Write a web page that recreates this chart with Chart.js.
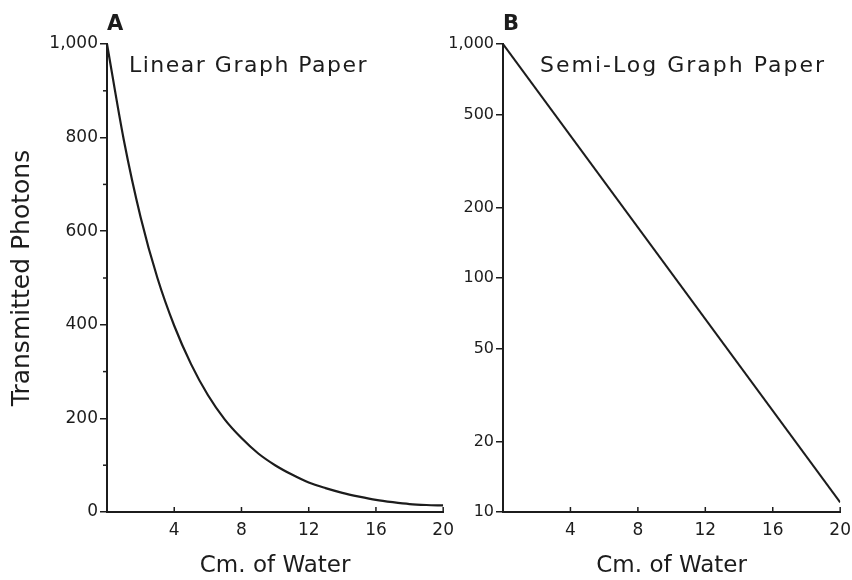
<!DOCTYPE html>
<html>
<head>
<meta charset="utf-8">
<script src="https://cdn.jsdelivr.net/npm/chart.js@4.4.1/dist/chart.umd.min.js"></script>
<style>
  body { margin: 0; background: #fff; overflow: hidden; }
  #wrap { position: relative; width: 852px; height: 580px; overflow: hidden; }
  canvas { position: absolute; top: 0; }
</style>
</head>
<body>
<div id="wrap">
  <canvas id="linearChart" width="462" height="580" style="left:0;width:462px;height:580px"></canvas>
  <canvas id="semiLogChart" width="419" height="580" style="left:440px;width:419px;height:580px"></canvas>
</div>
<script>
// values
const waterCm = [0, 1, 2, 3, 4, 5, 6, 7, 8, 9, 10, 11, 12, 13, 14, 15, 16, 17, 18, 19, 20];
const photonsLinear = [1000, 795, 630, 500, 398, 316, 250, 198, 158, 125, 100, 80, 63, 51, 41, 33, 26, 21, 17, 15, 14];
const semiLogCm = [0, 20];
const semiLogPhotons = [1000, 11];

const xTicks = [4, 8, 12, 16, 20];
const linearYTicks = [0, 200, 400, 600, 800, 1000];
const linearMinorTicks = [100, 300, 500, 700, 900];
const logYTicks = [10, 20, 50, 100, 200, 500, 1000];

const ink = '#1c1c1c';
Chart.defaults.font.family = "'DejaVu Sans', sans-serif";
Chart.defaults.color = ink;

const fmt = v => Number(v).toLocaleString('en-US');

// letter, caption, inward x ticks and small minor ticks on the y axis
function paperLabels(letter, caption, captionDx, spacing, minor) {
    return {
        id: 'paperLabels',
        afterDraw(chart) {
            const ctx = chart.ctx;
            const area = chart.chartArea;
            const x = chart.scales.x, y = chart.scales.y;
            ctx.save();
            ctx.strokeStyle = ink;
            ctx.lineWidth = 1.5;
            xTicks.forEach(v => {
                const px = x.getPixelForValue(v);
                ctx.beginPath();
                ctx.moveTo(px, area.bottom);
                ctx.lineTo(px, area.bottom - 5);
                ctx.stroke();
            });
            minor.forEach(v => {
                const py = y.getPixelForValue(v);
                ctx.beginPath();
                ctx.moveTo(area.left - 4, py);
                ctx.lineTo(area.left, py);
                ctx.stroke();
            });
            ctx.fillStyle = ink;
            ctx.textBaseline = 'middle';
            ctx.font = "bold 21px 'DejaVu Sans', sans-serif";
            ctx.fillText(letter, area.left, 25);
            ctx.font = "22px 'DejaVu Sans', sans-serif";
            ctx.letterSpacing = spacing;
            ctx.fillText(caption, area.left + captionDx, 66);
            ctx.restore();
        }
    };
}

function xAxis() {
    return {
        type: 'linear',
        min: 0,
        max: 20,
        afterBuildTicks: s => { s.ticks = xTicks.map(v => ({ value: v })); },
        afterFit: s => { s.height = 68; },
        grid: { drawOnChartArea: false, drawTicks: false },
        border: { display: true, color: ink, width: 2 },
        ticks: { padding: 8, font: { size: 17 }, color: ink },
        title: { display: true, text: 'Cm. of Water', font: { size: 23 }, color: ink, padding: { top: 0, bottom: 0 } }
    };
}

new Chart(document.getElementById('linearChart'), {
    type: 'line',
    data: {
        datasets: [{
            data: waterCm.map((c, i) => ({ x: c, y: photonsLinear[i] })),
            borderColor: ink,
            borderWidth: 2.2,
            pointRadius: 0,
            cubicInterpolationMode: 'monotone',
            fill: false
        }]
    },
    options: {
        responsive: false,
        animation: false,
        layout: { padding: { top: 44, right: 10, left: 0, bottom: 0 } },
        plugins: { legend: { display: false }, tooltip: { enabled: false } },
        scales: {
            x: xAxis(),
            y: {
                type: 'linear',
                min: 0,
                max: 1000,
                afterBuildTicks: s => { s.ticks = linearYTicks.map(v => ({ value: v })); },
                afterFit: s => { s.width = 107; },
                grid: { drawOnChartArea: false, tickLength: 7, color: ink, lineWidth: 1.5 },
                border: { display: true, color: ink, width: 2 },
                ticks: { padding: 2, font: { size: 17 }, color: ink, callback: fmt },
                title: { display: true, text: 'Transmitted Photons', font: { size: 25 }, color: ink, padding: { top: 7, bottom: 0 } }
            }
        }
    },
    plugins: [paperLabels('A', 'Linear Graph Paper', 22, '1.5px', linearMinorTicks)]
});

new Chart(document.getElementById('semiLogChart'), {
    type: 'line',
    data: {
        datasets: [{
            data: semiLogCm.map((c, i) => ({ x: c, y: semiLogPhotons[i] })),
            borderColor: ink,
            borderWidth: 2,
            pointRadius: 0,
            fill: false
        }]
    },
    options: {
        responsive: false,
        animation: false,
        layout: { padding: { top: 44, right: 5, left: 0, bottom: 0 } },
        plugins: { legend: { display: false }, tooltip: { enabled: false } },
        scales: {
            x: xAxis(),
            y: {
                type: 'logarithmic',
                min: 10,
                max: 1000,
                afterBuildTicks: s => { s.ticks = logYTicks.map(v => ({ value: v })); },
                afterFit: s => { s.width = 63; },
                grid: { drawOnChartArea: false, tickLength: 7, color: ink, lineWidth: 1.5 },
                border: { display: true, color: ink, width: 2 },
                ticks: { padding: 2, font: { size: 16 }, color: ink, callback: fmt }
            }
        }
    },
    plugins: [paperLabels('B', 'Semi-Log Graph Paper', 37, '2px', [])]
});
</script>
</body>
</html>
